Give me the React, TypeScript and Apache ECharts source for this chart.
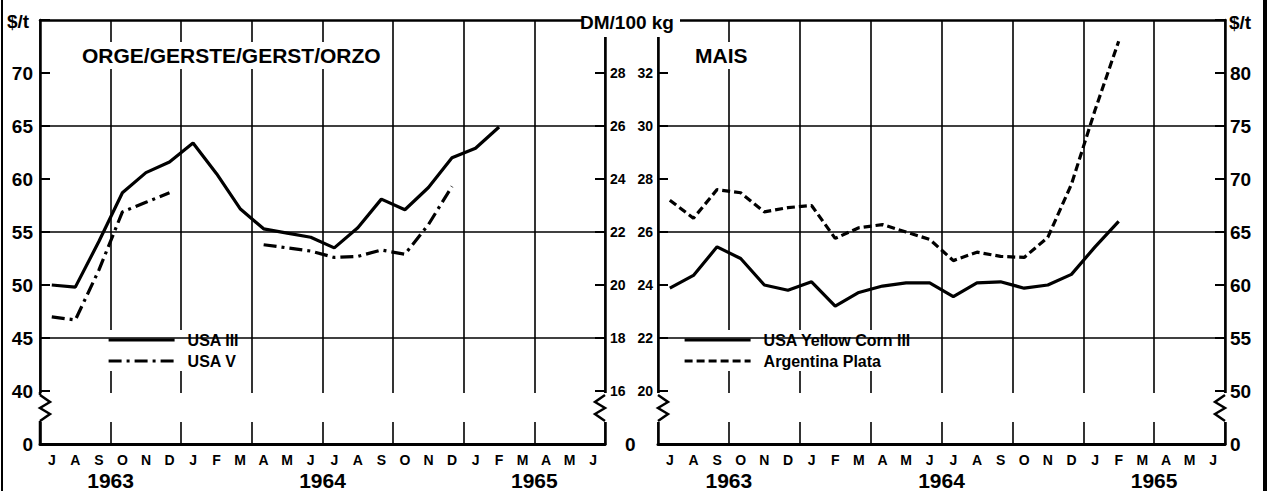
import React, { useEffect, useRef } from 'react';
import * as echarts from 'echarts';

const months = ['J', 'A', 'S', 'O', 'N', 'D', 'J', 'F', 'M', 'A', 'M', 'J', 'J', 'A', 'S', 'O', 'N', 'D', 'J', 'F', 'M', 'A', 'M', 'J'];
const yearLabels: Record<number, string> = { 3: '1963', 12: '1964', 21: '1965' };

// Barley ($/t)
const usaIII = [50.0, 49.8, 54.1, 58.7, 60.6, 61.6, 63.4, 60.5, 57.2, 55.3, 54.9, 54.5, 53.5, 55.4, 58.1, 57.1, 59.2, 62.0, 62.9, 64.9, null, null, null, null];
const usaV = [47.0, 46.7, 51.4, 56.9, 57.8, 58.7, null, null, null, 53.8, 53.5, 53.2, 52.6, 52.7, 53.3, 52.9, 55.7, 59.3, null, null, null, null, null, null];
// Maize ($/t)
const yellowCorn = [59.7, 60.9, 63.6, 62.5, 60.0, 59.5, 60.3, 58.0, 59.3, 59.9, 60.2, 60.2, 58.9, 60.2, 60.3, 59.7, 60.0, 61.0, 63.6, 66.0, null, null, null, null];
const argentina = [68.0, 66.3, 69.0, 68.7, 66.9, 67.3, 67.5, 64.4, 65.4, 65.7, 65.0, 64.3, 62.3, 63.1, 62.7, 62.6, 64.5, 69.5, 76.5, 83.0, null, null, null, null];

const leftGridLines = [45, 55, 65];
const rightGridLines = [55, 65, 75];

const FONT = '"Liberation Sans", "DejaVu Sans", sans-serif';
const G1 = { left: 40, top: 20, width: 565, height: 424 };
const G2 = { left: 658, top: 20, width: 567, height: 424 };

function zig(x: number, y: number, dir: number) {
  return [[x, y], [x + 10 * dir, y + 7], [x, y + 13], [x + 10 * dir, y + 19], [x, y + 26]];
}

export default function App() {
  const ref = useRef<HTMLDivElement>(null);
  useEffect(() => {
    const chart = echarts.init(ref.current!, null, { renderer: 'svg' });
    const black = '#000';
    const monthAxes = (gi: number) => [
      {
        type: 'category', gridIndex: gi, data: months, position: 'bottom', boundaryGap: true,
        axisLine: { lineStyle: { color: black, width: 3 } },
        axisTick: { inside: true, length: 9, interval: 0, lineStyle: { color: black, width: 2 } },
        axisLabel: { interval: 0, margin: 9, color: black, fontFamily: FONT, fontWeight: 'bold', fontSize: 14 },
        splitLine: { show: true, interval: (i: number) => i % 3 === 0, lineStyle: { color: black, width: 1.6 } },
      },
      {
        type: 'category', gridIndex: gi, data: months, position: 'top', boundaryGap: true,
        axisLine: { lineStyle: { color: black, width: 2.5 } },
        axisTick: { inside: true, length: 9, interval: 0, lineStyle: { color: black, width: 2 } },
        axisLabel: { show: false }, splitLine: { show: false },
      },
      {
        type: 'category', gridIndex: gi, data: months, position: 'bottom', boundaryGap: true,
        axisLine: { show: false },
        axisTick: { inside: false, length: 48, interval: (i: number) => i === 6 || i === 18, lineStyle: { color: black, width: 1.6 } },
        axisLabel: { show: false }, splitLine: { show: false },
      },
      {
        type: 'value', gridIndex: gi, min: 0, max: 24, interval: 3, position: 'bottom',
        axisLine: { show: false }, axisTick: { show: false }, splitLine: { show: false },
        axisLabel: {
          margin: 26, color: black, fontFamily: FONT, fontWeight: 'bold', fontSize: 21,
          showMinLabel: false, showMaxLabel: false,
          formatter: (v: number) => yearLabels[v] || '',
        },
      },
    ];
    const valAxis = (gi: number, pos: string, min: number, max: number, interval: number, fs: number, fmt: (v: number) => string, extra: any = {}) => ({
      type: 'value', gridIndex: gi, position: pos, min, max, interval,
      axisLine: { show: true, lineStyle: { color: black, width: 2.5 } },
      axisTick: { show: true, inside: true, length: 10, lineStyle: { color: black, width: 2 } },
      splitLine: { show: false },
      axisLabel: { margin: 5, color: black, fontFamily: FONT, fontWeight: 'bold', fontSize: fs, formatter: fmt, ...extra },
    });

    const gridLine = (vals: number[]) => ({
      silent: true, symbol: ['none', 'none'], label: { show: false },
      lineStyle: { color: black, width: 1.6, type: 'solid' },
      emphasis: { disabled: true },
      data: vals.map((v) => ({ yAxis: v })),
    });

    const line = (name: string, data: any[], xi: number, yi: number, type: any, extra: any = {}) => ({
      name, type: 'line', data, xAxisIndex: xi, yAxisIndex: yi, symbol: 'none', connectNulls: false,
      lineStyle: { color: black, width: 3.2, type }, itemStyle: { color: black }, z: 5, ...extra,
    });

    const white = { fill: '#fff' };
    const mask = (x: number, y: number, w: number, h: number) => ({ type: 'rect', z: 100, shape: { x, y, width: w, height: h }, style: white });
    const zz = (x: number, y: number, dir: number) => ({ type: 'polyline', z: 101, shape: { points: zig(x, y, dir) }, style: { stroke: black, lineWidth: 2.5, fill: null } });
    const txt = (text: string, x: number, y: number, fs: number, align = 'left') => ({
      type: 'text', z: 102, x, y, style: { text, fill: black, font: `bold ${fs}px ${FONT}`, textAlign: align, textVerticalAlign: 'middle' },
    });
    const bottom = G1.top + G1.height;
    const legendCommon = {
      orient: 'vertical', itemWidth: 66, itemHeight: 14, itemGap: 5, top: 330,
      itemStyle: { opacity: 0 },
      lineStyle: { width: 3.2 },
      backgroundColor: '#fff', padding: [2, 6],
      textStyle: { fontFamily: FONT, fontWeight: 'bold', fontSize: 16, color: black, padding: [0, 0, 0, 8] },
    };

    chart.setOption({
      animation: false,
      backgroundColor: '#fff',
      grid: [
        { left: G1.left, top: G1.top, width: G1.width, height: G1.height },
        { left: G2.left, top: G2.top, width: G2.width, height: G2.height },
      ],
      xAxis: [...monthAxes(0), ...monthAxes(1)],
      yAxis: [
        valAxis(0, 'left', 35, 75, 5, 19, (v) => (v === 35 ? '0' : v === 75 ? '' : String(v)), { margin: 7 }),
        valAxis(0, 'right', 14, 30, 2, 14, (v) => (v === 14 ? '{z|0}' : v === 30 ? '' : String(v)), {
          rich: { z: { fontFamily: FONT, fontWeight: 'bold', fontSize: 19, padding: [0, 0, 0, 15], color: black } },
        }),
        valAxis(1, 'left', 18, 34, 2, 14, (v) => (v === 18 || v === 34 ? '' : String(v))),
        valAxis(1, 'right', 45, 85, 5, 19, (v) => (v === 45 ? '0' : v === 85 ? '' : String(v))),
      ],
      title: [
        { text: 'ORGE/GERSTE/GERST/ORZO', left: 76, top: 42, padding: [3, 6], backgroundColor: '#fff', textStyle: { fontFamily: FONT, fontWeight: 'bold', fontSize: 21, color: black } },
        { text: 'MAIS', left: 689, top: 42, padding: [3, 6], backgroundColor: '#fff', textStyle: { fontFamily: FONT, fontWeight: 'bold', fontSize: 21, color: black } },
      ],
      legend: [
        { ...legendCommon, data: ['USA III', 'USA V'], left: 101 },
        { ...legendCommon, data: ['USA Yellow Corn III', 'Argentina Plata'], left: 677 },
      ],
      series: [
        line('USA III', usaIII, 0, 0, 'solid', { markLine: gridLine(leftGridLines) }),
        line('USA V', usaV, 0, 0, [13, 5, 3, 5]),
        line('USA Yellow Corn III', yellowCorn, 4, 3, 'solid', { markLine: gridLine(rightGridLines) }),
        line('Argentina Plata', argentina, 4, 3, [8, 4]),
      ],
      graphic: {
        elements: [
          // break zones
          mask(G1.left - 3, 393, G1.width + 6, 29),
          mask(G2.left - 3, 393, G2.width + 6, 29),
          zz(G1.left, 395, 1),
          zz(G1.left + G1.width, 395, -1),
          zz(G2.left, 395, 1),
          zz(G2.left + G2.width, 395, -1),
          { type: 'line', z: 101, shape: { x1: G1.left, y1: 392, x2: G1.left, y2: 395 }, style: { stroke: black, lineWidth: 2.5 } },
          { type: 'line', z: 101, shape: { x1: G1.left, y1: 421, x2: G1.left, y2: bottom }, style: { stroke: black, lineWidth: 2.5 } },
          // header label masks
          mask(583, 6, 97, 31),
          mask(G2.left + G2.width + 2, 6, 40, 30),
          txt('$/t', 7, 21, 19),
          txt('DM/100 kg', 580, 22, 19),
          txt('$/t', 1229, 22, 19),
          // page borders
          { type: 'line', z: 103, shape: { x1: 2, y1: 0, x2: 2, y2: 491 }, style: { stroke: black, lineWidth: 2 } },
          { type: 'line', z: 103, shape: { x1: 1265, y1: 0, x2: 1265, y2: 491 }, style: { stroke: black, lineWidth: 4 } },
        ],
      },
    });
    return () => chart.dispose();
  }, []);
  return <div ref={ref} style={{ position: 'absolute', left: 0, top: 0, width: 1272, height: 491 }} />;
}
